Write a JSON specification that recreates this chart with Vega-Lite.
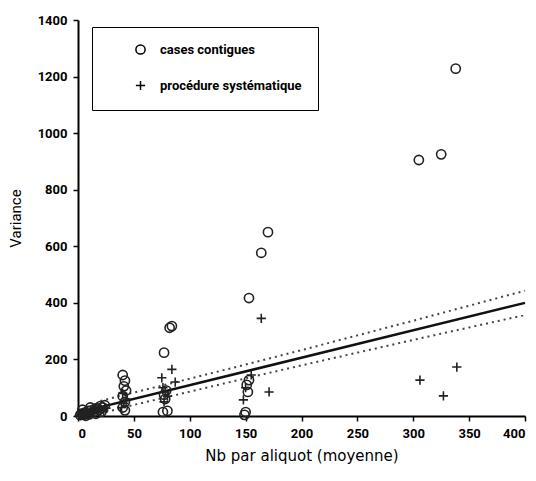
{
  "$schema": "https://vega.github.io/schema/vega-lite/v6.json",
  "autosize": {"type": "none"},
  "padding": {"left": 78, "top": 20, "right": 11, "bottom": 65},
  "width": 447,
  "height": 396,
  "background": "white",
  "config": {
    "view": {"stroke": null},
    "font": "Roboto",
    "axis": {
      "domainColor": "black", "domainWidth": 2, "tickColor": "black", "tickWidth": 1.5, "tickSize": 5,
      "grid": false, "labelColor": "black", "labelFont": "Roboto", "labelFontWeight": "bold",
      "labelFontSize": 13, "titleColor": "black", "titleFontWeight": "normal"
    }
  },
  "datasets": {
    "pts": [
      {"x": 2, "y": 3, "type": "cases contigues"}, {"x": 3, "y": 8, "type": "cases contigues"}, {"x": 5, "y": 5, "type": "cases contigues"},
      {"x": 6, "y": 12, "type": "cases contigues"}, {"x": 8, "y": 10, "type": "cases contigues"}, {"x": 9, "y": 18, "type": "cases contigues"},
      {"x": 10, "y": 6, "type": "cases contigues"}, {"x": 12, "y": 20, "type": "cases contigues"}, {"x": 14, "y": 15, "type": "cases contigues"},
      {"x": 15, "y": 25, "type": "cases contigues"}, {"x": 17, "y": 28, "type": "cases contigues"}, {"x": 19, "y": 22, "type": "cases contigues"},
      {"x": 20, "y": 35, "type": "cases contigues"}, {"x": 22, "y": 30, "type": "cases contigues"}, {"x": 24, "y": 38, "type": "cases contigues"},
      {"x": 4, "y": 22, "type": "cases contigues"}, {"x": 11, "y": 30, "type": "cases contigues"}, {"x": 16, "y": 8, "type": "cases contigues"},
      {"x": 21, "y": 15, "type": "cases contigues"}, {"x": 7, "y": 1, "type": "cases contigues"},
      {"x": 40, "y": 145, "type": "cases contigues"}, {"x": 42, "y": 125, "type": "cases contigues"}, {"x": 41, "y": 105, "type": "cases contigues"},
      {"x": 43, "y": 90, "type": "cases contigues"}, {"x": 40, "y": 70, "type": "cases contigues"}, {"x": 42, "y": 50, "type": "cases contigues"},
      {"x": 40, "y": 30, "type": "cases contigues"}, {"x": 42, "y": 20, "type": "cases contigues"},
      {"x": 84, "y": 318, "type": "cases contigues"}, {"x": 82, "y": 312, "type": "cases contigues"}, {"x": 77, "y": 224, "type": "cases contigues"},
      {"x": 76, "y": 14, "type": "cases contigues"}, {"x": 80, "y": 18, "type": "cases contigues"}, {"x": 78, "y": 60, "type": "cases contigues"},
      {"x": 77, "y": 75, "type": "cases contigues"}, {"x": 79, "y": 90, "type": "cases contigues"},
      {"x": 149, "y": 4, "type": "cases contigues"}, {"x": 150, "y": 14, "type": "cases contigues"}, {"x": 152, "y": 85, "type": "cases contigues"},
      {"x": 151, "y": 110, "type": "cases contigues"}, {"x": 153, "y": 127, "type": "cases contigues"}, {"x": 153, "y": 417, "type": "cases contigues"},
      {"x": 164, "y": 577, "type": "cases contigues"}, {"x": 170, "y": 650, "type": "cases contigues"},
      {"x": 305, "y": 905, "type": "cases contigues"}, {"x": 325, "y": 925, "type": "cases contigues"}, {"x": 338, "y": 1228, "type": "cases contigues"},
      {"x": 1, "y": 2, "type": "procédure systématique"}, {"x": 3, "y": 5, "type": "procédure systématique"}, {"x": 4, "y": 10, "type": "procédure systématique"},
      {"x": 6, "y": 4, "type": "procédure systématique"}, {"x": 7, "y": 15, "type": "procédure systématique"}, {"x": 9, "y": 8, "type": "procédure systématique"},
      {"x": 11, "y": 14, "type": "procédure systématique"}, {"x": 13, "y": 10, "type": "procédure systématique"}, {"x": 15, "y": 20, "type": "procédure systématique"},
      {"x": 18, "y": 15, "type": "procédure systématique"}, {"x": 20, "y": 25, "type": "procédure systématique"}, {"x": 23, "y": 20, "type": "procédure systématique"},
      {"x": 25, "y": 28, "type": "procédure systématique"},
      {"x": 39, "y": 30, "type": "procédure systématique"}, {"x": 41, "y": 45, "type": "procédure systématique"}, {"x": 43, "y": 60, "type": "procédure systématique"},
      {"x": 40, "y": 80, "type": "procédure systématique"},
      {"x": 75, "y": 135, "type": "procédure systématique"}, {"x": 84, "y": 165, "type": "procédure systématique"}, {"x": 87, "y": 120, "type": "procédure systématique"},
      {"x": 76, "y": 100, "type": "procédure systématique"}, {"x": 78, "y": 85, "type": "procédure systématique"}, {"x": 80, "y": 70, "type": "procédure systématique"},
      {"x": 77, "y": 50, "type": "procédure systématique"},
      {"x": 148, "y": 57, "type": "procédure systématique"}, {"x": 150, "y": 100, "type": "procédure systématique"}, {"x": 155, "y": 145, "type": "procédure systématique"},
      {"x": 164, "y": 345, "type": "procédure systématique"}, {"x": 171, "y": 85, "type": "procédure systématique"},
      {"x": 306, "y": 127, "type": "procédure systématique"}, {"x": 327, "y": 71, "type": "procédure systématique"}, {"x": 339, "y": 173, "type": "procédure systématique"}
    ],
    "fit": [
      {"x": 0, "y": 12}, {"x": 400, "y": 400}
    ],
    "bands": [
      {"x": 20, "y": 53, "band": "upper"}, {"x": 50, "y": 83, "band": "upper"}, {"x": 100, "y": 132, "band": "upper"},
      {"x": 150, "y": 182, "band": "upper"}, {"x": 200, "y": 233, "band": "upper"}, {"x": 250, "y": 285, "band": "upper"},
      {"x": 300, "y": 337, "band": "upper"}, {"x": 350, "y": 390, "band": "upper"}, {"x": 400, "y": 443, "band": "upper"},
      {"x": 20, "y": 9, "band": "lower"}, {"x": 50, "y": 39, "band": "lower"}, {"x": 100, "y": 86, "band": "lower"},
      {"x": 150, "y": 133, "band": "lower"}, {"x": 200, "y": 179, "band": "lower"}, {"x": 250, "y": 224, "band": "lower"},
      {"x": 300, "y": 269, "band": "lower"}, {"x": 350, "y": 313, "band": "lower"}, {"x": 400, "y": 357, "band": "lower"}
    ]
  },
  "layer": [
    {
      "data": {"name": "bands"},
      "mark": {"type": "line", "strokeDash": [2, 4], "strokeWidth": 2, "color": "#444", "interpolate": "monotone"},
      "encoding": {
        "x": {"field": "x", "type": "quantitative"},
        "y": {"field": "y", "type": "quantitative"},
        "detail": {"field": "band", "type": "nominal"}
      }
    },
    {
      "data": {"name": "fit"},
      "mark": {"type": "line", "strokeWidth": 2.5, "color": "#111"},
      "encoding": {
        "x": {"field": "x", "type": "quantitative"},
        "y": {"field": "y", "type": "quantitative"}
      }
    },
    {
      "data": {"name": "pts"},
      "mark": {"type": "point", "filled": false, "color": "#222", "strokeWidth": 1.6, "size": 85, "opacity": 1},
      "encoding": {
        "x": {
          "field": "x", "type": "quantitative",
          "scale": {"domain": [0, 400], "nice": false},
          "axis": {"values": [0, 50, 100, 150, 200, 250, 300, 350, 400], "format": "d", "title": "Nb par aliquot (moyenne)",
                   "titleFont": "DejaVu Sans", "titleFontSize": 15, "titlePadding": 8, "labelPadding": 6}
        },
        "y": {
          "field": "y", "type": "quantitative",
          "scale": {"domain": [0, 1400], "nice": false},
          "axis": {"values": [0, 200, 400, 600, 800, 1000, 1200, 1400], "format": "d", "title": "Variance",
                   "titleFont": "Roboto", "titleFontSize": 15, "titlePadding": 14, "labelPadding": 6}
        },
        "shape": {
          "field": "type", "type": "nominal",
          "scale": {"domain": ["cases contigues", "procédure systématique"], "range": ["circle", "M-1,0H1M0,-1V1"]},
          "legend": {
            "title": null, "orient": "none", "legendX": 14, "legendY": 7,
            "fillColor": "white", "strokeColor": "black", "padding": 16,
            "symbolOffset": 26, "labelOffset": 13, "rowPadding": 19,
            "labelFont": "Roboto", "labelFontWeight": "bold", "labelFontSize": 13, "labelColor": "black",
            "symbolStrokeColor": "black", "symbolStrokeWidth": 1.5, "symbolSize": 85, "labelLimit": 300
          }
        }
      }
    }
  ]
}
